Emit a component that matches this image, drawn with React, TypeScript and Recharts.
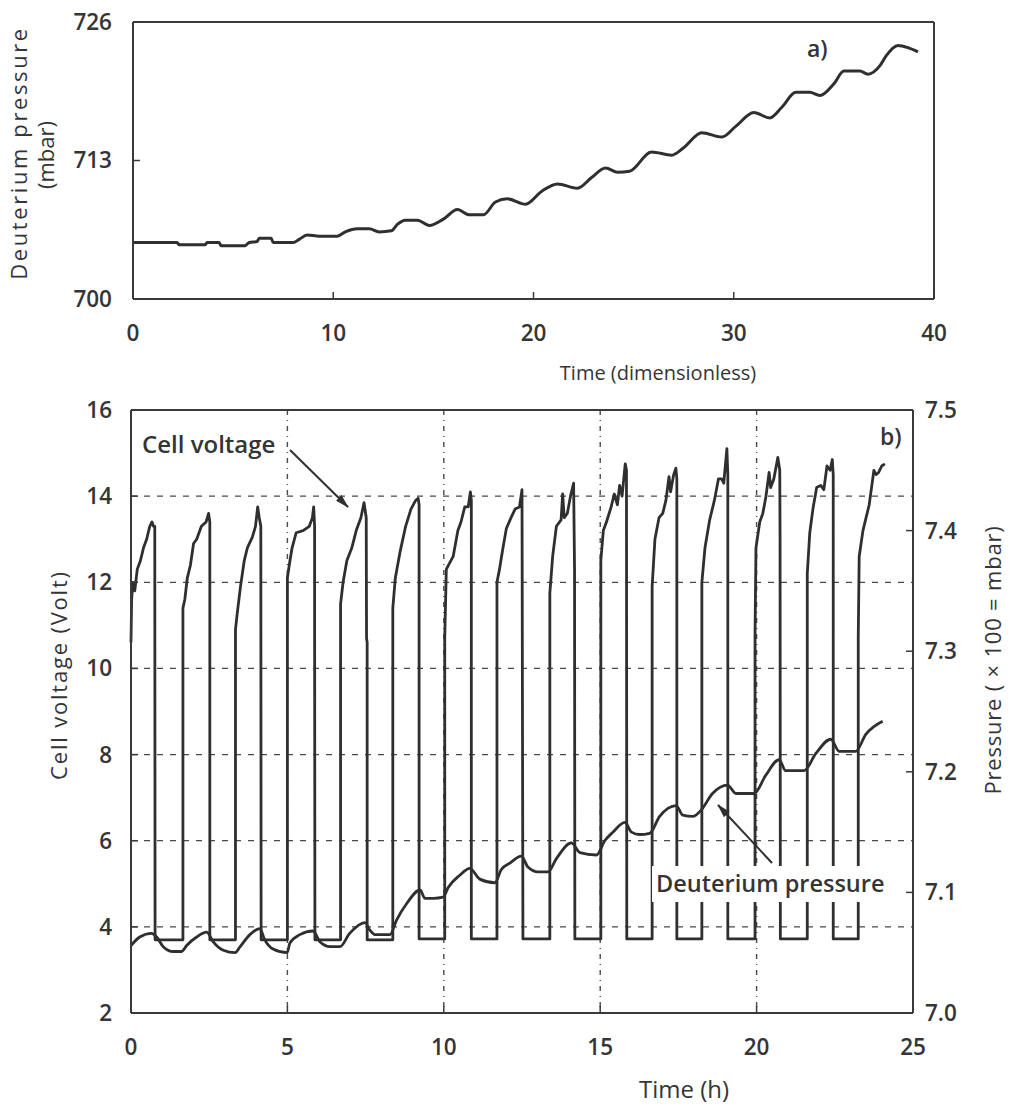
import { LineChart, Line, XAxis, YAxis, CartesianGrid, ReferenceLine } from "recharts";

document.body.style.margin = "0";

const INK = "#2f2f2f";
const AXIS = "#3a3a3a";
const TEXT = "#353535";
const FONT = "'Open Sans', 'DejaVu Sans', sans-serif";

// ── panel a) — deuterium pressure vs dimensionless time ─────────────────────
const A_TICKS_X = [0, 10, 20, 30, 40];
const A_TICKS_Y = [700, 713, 726];
const A_PRESSURE: [number, number][] = [
  [0, 705.3], [2.2, 705.3], [2.3, 705.1], [3.6, 705.1], [3.7, 705.3], [4.3, 705.3],
  [4.4, 705.0], [5.6, 705.0], [5.8, 705.3], [6.2, 705.4], [6.3, 705.7], [6.9, 705.7],
  [7.0, 705.3], [8.0, 705.3], [8.3, 705.6], [8.7, 706.0], [9.3, 705.9], [10.2, 705.9],
  [10.6, 706.3], [11.2, 706.6], [11.8, 706.6], [12.3, 706.3], [12.9, 706.4], [13.2, 707.0],
  [13.6, 707.4], [14.2, 707.4], [14.8, 706.9], [15.5, 707.5], [16.2, 708.4], [16.8, 707.9],
  [17.5, 707.9], [18.1, 709.1], [18.7, 709.4], [19.6, 708.9], [20.4, 710.1], [21.2, 710.8],
  [22.2, 710.4], [22.9, 711.4], [23.6, 712.3], [24.2, 711.9], [24.8, 712.0], [25.9, 713.8],
  [26.9, 713.5], [27.5, 714.2], [28.4, 715.6], [29.4, 715.2], [30.1, 716.2], [31.0, 717.5],
  [31.8, 717.0], [32.4, 718.0], [33.1, 719.4], [33.8, 719.4], [34.3, 719.1], [35.0, 720.2],
  [35.5, 721.4], [36.3, 721.4], [36.7, 721.1], [37.3, 721.9], [37.6, 722.8], [38.2, 723.8],
  [38.7, 723.6], [39.2, 723.2],
];

// ── panel b) — cell voltage + deuterium pressure vs time (h) ────────────────
const B_TICKS_X = [0, 5, 10, 15, 20, 25];
const B_TICKS_VOLT = [2, 4, 6, 8, 10, 12, 14, 16];
const B_TICKS_PRESS = [7.0, 7.1, 7.2, 7.3, 7.4, 7.5];

const B_VOLTAGE: [number, number][] = [
  [0, 10.6], [0.02, 11.6], [0.06, 12.0], [0.12, 11.8], [0.2, 12.3], [0.3, 12.5], [0.4, 12.8],
  [0.5, 13.0], [0.6, 13.3], [0.67, 13.4], [0.72, 13.3], [0.76, 13.3], [0.77, 3.7],
  [1.66, 3.7],
  [1.66, 11.4], [1.72, 11.6], [1.8, 12.1], [1.9, 12.4], [2.0, 12.9], [2.1, 13.0], [2.25, 13.3],
  [2.4, 13.4], [2.48, 13.6], [2.52, 13.4], [2.52, 3.7],
  [3.34, 3.7],
  [3.34, 10.9], [3.4, 11.3], [3.5, 11.9], [3.62, 12.5], [3.72, 12.8], [3.88, 13.05], [3.98, 13.3],
  [4.05, 13.75], [4.1, 13.5], [4.15, 13.3], [4.16, 3.7],
  [5.0, 3.7],
  [5.0, 12.1], [5.06, 12.4], [5.15, 12.8], [5.28, 13.15], [5.5, 13.2], [5.7, 13.3], [5.8, 13.5],
  [5.84, 13.75], [5.87, 13.3], [5.87, 11.0], [5.88, 3.7],
  [6.7, 3.7],
  [6.7, 11.5], [6.78, 12.0], [6.9, 12.5], [7.06, 12.8], [7.2, 13.2], [7.35, 13.5], [7.45, 13.85],
  [7.52, 13.5], [7.53, 10.7], [7.55, 10.6], [7.55, 3.7],
  [8.37, 3.7],
  [8.37, 11.4], [8.45, 12.1], [8.6, 12.7], [8.78, 13.3], [8.95, 13.7], [9.1, 13.9], [9.18, 13.95],
  [9.21, 13.8], [9.21, 3.72],
  [10.03, 3.72],
  [10.03, 10.7], [10.08, 12.3], [10.15, 12.4], [10.3, 12.6], [10.45, 13.2], [10.55, 13.4],
  [10.67, 13.75], [10.78, 13.75], [10.85, 14.1], [10.88, 13.9], [10.88, 3.72],
  [11.7, 3.72],
  [11.7, 12.0], [11.78, 12.3], [11.88, 12.75], [12.0, 13.25], [12.15, 13.5], [12.28, 13.7],
  [12.42, 13.75], [12.5, 14.15], [12.53, 3.72],
  [13.39, 3.72],
  [13.39, 11.75], [13.48, 12.6], [13.6, 13.3], [13.75, 13.45], [13.8, 14.05], [13.85, 13.5],
  [13.95, 13.6], [14.05, 14.0], [14.15, 14.3], [14.18, 12.3], [14.19, 3.72],
  [15.02, 3.72],
  [15.02, 12.5], [15.1, 13.2], [15.2, 13.4], [15.35, 13.75], [15.45, 14.05], [15.55, 13.8],
  [15.62, 14.25], [15.7, 14.0], [15.8, 14.75], [15.84, 14.6], [15.85, 3.72],
  [16.66, 3.72],
  [16.66, 11.9], [16.75, 13.0], [16.88, 13.5], [17.0, 13.6], [17.1, 13.9], [17.2, 14.45],
  [17.25, 14.1], [17.35, 14.5], [17.42, 14.65], [17.45, 14.4], [17.45, 3.72],
  [18.25, 3.72],
  [18.25, 12.0], [18.35, 12.8], [18.5, 13.45], [18.65, 13.9], [18.78, 14.4], [18.88, 14.4],
  [18.95, 14.3], [19.05, 15.1], [19.08, 14.5], [19.08, 3.72],
  [19.95, 3.72],
  [19.95, 10.8], [19.98, 12.8], [20.1, 13.4], [20.2, 13.6], [20.3, 14.0], [20.4, 14.55],
  [20.45, 14.2], [20.55, 14.4], [20.68, 14.9], [20.74, 14.6], [20.75, 13.05], [20.76, 3.72],
  [21.62, 3.72],
  [21.62, 12.2], [21.7, 13.15], [21.8, 13.7], [21.92, 14.2], [22.05, 14.25], [22.15, 14.15],
  [22.25, 14.7], [22.35, 14.6], [22.42, 14.85], [22.45, 14.5], [22.45, 3.72],
  [23.25, 3.72],
  [23.25, 10.75], [23.28, 12.6], [23.4, 13.2], [23.5, 13.5], [23.6, 13.8], [23.75, 14.6],
  [23.82, 14.5], [23.9, 14.55], [24.0, 14.7], [24.1, 14.75],
];

const B_PRESSURE: [number, number][] = [
  [0, 7.056], [0.28, 7.063], [0.66, 7.066], [0.82, 7.063], [1.03, 7.055], [1.35, 7.051],
  [1.62, 7.051], [1.78, 7.056], [2.1, 7.063], [2.42, 7.067], [2.63, 7.059], [2.95, 7.052],
  [3.33, 7.05], [3.49, 7.055], [3.8, 7.065], [4.12, 7.07], [4.27, 7.061], [4.54, 7.053],
  [4.99, 7.05], [5.08, 7.058], [5.4, 7.065], [5.82, 7.068], [6.04, 7.059], [6.36, 7.055],
  [6.68, 7.055], [6.99, 7.066], [7.48, 7.075], [7.63, 7.069], [7.8, 7.065], [8.28, 7.065],
  [8.49, 7.077], [8.82, 7.091], [9.24, 7.102], [9.4, 7.095], [9.67, 7.095], [9.98, 7.096],
  [10.14, 7.104], [10.5, 7.114], [10.83, 7.12], [11.15, 7.111], [11.63, 7.108], [11.84, 7.119],
  [12.1, 7.124], [12.48, 7.13], [12.69, 7.121], [13.01, 7.117], [13.33, 7.117], [13.6, 7.128],
  [14.08, 7.141], [14.35, 7.133], [14.88, 7.131], [15.15, 7.143], [15.41, 7.15], [15.79, 7.158],
  [16.0, 7.15], [16.26, 7.148], [16.58, 7.149], [16.9, 7.163], [17.43, 7.172], [17.64, 7.164],
  [17.96, 7.163], [18.22, 7.168], [18.59, 7.182], [19.07, 7.189], [19.34, 7.182], [19.92, 7.182],
  [20.29, 7.197], [20.72, 7.21], [20.93, 7.201], [21.52, 7.201], [21.89, 7.215], [22.37, 7.227],
  [22.64, 7.217], [23.17, 7.217], [23.49, 7.231], [24.03, 7.242],
];

const aData = A_PRESSURE.map(([t, p]) => ({ t, p }));
const voltData = B_VOLTAGE.map(([t, v]) => ({ t, v }));
const pressData = B_PRESSURE.map(([t, p]) => ({ t, p }));

const tickStyle = { fontSize: 22.5, fill: TEXT, fontFamily: FONT, fontWeight: 600 };
const axisLine = { stroke: AXIS, strokeWidth: 2 };
const tickLine = { stroke: AXIS, strokeWidth: 1.5 };

function Titles() {
  const t = { fontFamily: FONT, fill: TEXT, fontSize: 22, fontWeight: 500 } as const;
  const note = { fontFamily: FONT, fill: TEXT, fontSize: 24, fontWeight: 600 } as const;
  return (
    <svg
      width={1009}
      height={1105}
      style={{ position: "absolute", left: 0, top: 0, pointerEvents: "none" }}
    >
      <defs>
        <marker id="head" markerWidth="14" markerHeight="8" refX="13" refY="4" orient="auto" markerUnits="userSpaceOnUse">
          <path d="M0,0 L14,4 L0,8 Z" fill={INK} />
        </marker>
      </defs>
      {/* panel a) */}
      <text {...t} letterSpacing={2.6} textAnchor="middle" transform="translate(27,153) rotate(-90)">
        Deuterium pressure
      </text>
      <text {...t} textAnchor="middle" transform="translate(54,155) rotate(-90)">
        (mbar)
      </text>
      <text {...t} fontSize={20} textAnchor="middle" x={658} y={380}>
        Time (dimensionless)
      </text>
      <text {...note} fontSize={23} x={807} y={57}>
        a)
      </text>
      {/* panel b) */}
      <text {...t} letterSpacing={1.8} textAnchor="middle" transform="translate(67,675) rotate(-90)">
        Cell voltage (Volt)
      </text>
      <text {...t} letterSpacing={0.8} textAnchor="middle" transform="translate(1001,660) rotate(-90)">
        Pressure ( × 100 = mbar)
      </text>
      <text {...t} fontSize={24} textAnchor="middle" x={684} y={1098}>
        Time (h)
      </text>
      <text {...note} fontSize={23} x={880} y={445}>
        b)
      </text>
      <text {...note} x={142} y={453}>
        Cell voltage
      </text>
      <line x1={290} y1={450} x2={348} y2={507} stroke={INK} strokeWidth={2} markerEnd="url(#head)" />
      <rect x={652} y={866} width={238} height={36} fill="#fff" />
      <text {...note} fontSize={23.5} x={656} y={892}>
        Deuterium pressure
      </text>
      <line x1={772} y1={863} x2={718} y2={805} stroke={INK} strokeWidth={2} markerEnd="url(#head)" />
    </svg>
  );
}

export default function App() {
  return (
    <div style={{ position: "relative", width: 1009, height: 1105, background: "#fff" }}>
      {/* a) plot area: x 133–934, y 22–299 */}
      <div style={{ position: "absolute", left: 0, top: 0 }}>
        <LineChart width={1009} height={390} data={aData} margin={{ top: 22, right: 75, bottom: 51, left: 63 }}>
          <XAxis
            dataKey="t"
            type="number"
            domain={[0, 40]}
            ticks={A_TICKS_X}
            interval={0}
            height={40}
            tick={tickStyle}
            tickSize={-7}
            tickMargin={33}
            axisLine={axisLine}
            tickLine={tickLine}
          />
          <YAxis
            type="number"
            domain={[700, 726]}
            ticks={A_TICKS_Y}
            interval={0}
            width={70}
            tick={tickStyle}
            tickSize={-7}
            tickMargin={28}
            axisLine={axisLine}
            tickLine={tickLine}
          />
          <ReferenceLine y={726} stroke={AXIS} strokeWidth={2} />
          <ReferenceLine x={40} stroke={AXIS} strokeWidth={2} />
          <Line
            dataKey="p"
            type="monotone"
            stroke={INK}
            strokeWidth={3}
            dot={false}
            isAnimationActive={false}
          />
        </LineChart>
      </div>

      {/* b) plot area: x 131–913, y 410–1013 */}
      <div style={{ position: "absolute", left: 0, top: 390 }}>
        <LineChart width={1009} height={715} margin={{ top: 20, right: 36, bottom: 52, left: 61 }}>
          <CartesianGrid
            yAxisId="volt"
            vertical={false}
            stroke="#4a4a4a"
            strokeWidth={1.2}
            strokeDasharray="6 7"
          />
          <CartesianGrid
            yAxisId="volt"
            horizontal={false}
            stroke="#4a4a4a"
            strokeWidth={1.4}
            strokeDasharray="5 5 1 5"
          />
          <XAxis
            dataKey="t"
            type="number"
            domain={[0, 25]}
            ticks={B_TICKS_X}
            interval={0}
            height={40}
            tick={tickStyle}
            tickSize={-7}
            tickMargin={33}
            axisLine={axisLine}
            tickLine={tickLine}
            allowDuplicatedCategory
          />
          <YAxis
            yAxisId="volt"
            type="number"
            domain={[2, 16]}
            ticks={B_TICKS_VOLT}
            interval={0}
            width={70}
            tick={tickStyle}
            tickSize={-7}
            tickMargin={26}
            axisLine={axisLine}
            tickLine={tickLine}
          />
          <YAxis
            yAxisId="press"
            orientation="right"
            type="number"
            domain={[7.0, 7.5]}
            ticks={B_TICKS_PRESS}
            interval={0}
            width={60}
            tick={tickStyle}
            tickFormatter={(v: number) => v.toFixed(1)}
            tickSize={-7}
            tickMargin={19}
            axisLine={axisLine}
            tickLine={tickLine}
          />
          <ReferenceLine yAxisId="volt" y={16} stroke={AXIS} strokeWidth={2} />
          <Line
            yAxisId="volt"
            data={voltData}
            dataKey="v"
            type="linear"
            stroke={INK}
            strokeWidth={2.8}
            strokeLinejoin="round"
            dot={false}
            isAnimationActive={false}
          />
          <Line
            yAxisId="press"
            data={pressData}
            dataKey="p"
            type="monotone"
            stroke={INK}
            strokeWidth={2.8}
            dot={false}
            isAnimationActive={false}
          />
        </LineChart>
      </div>

      <Titles />
    </div>
  );
}
